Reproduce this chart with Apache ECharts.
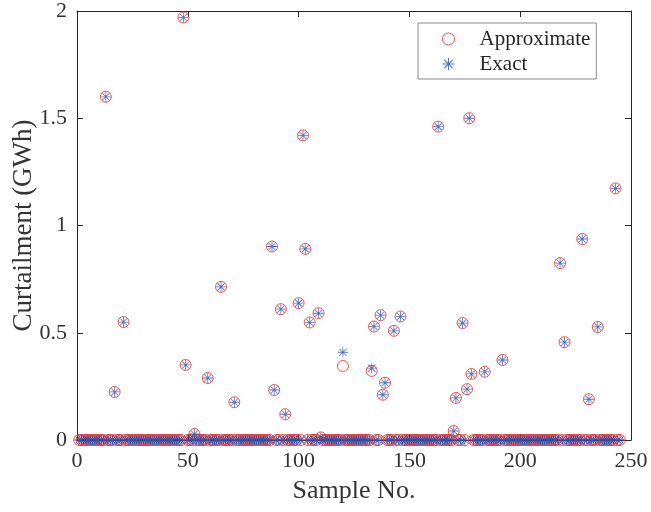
<!DOCTYPE html>
<html>
<head>
<meta charset="utf-8">
<script src="https://cdn.jsdelivr.net/npm/echarts@6/dist/echarts.min.js"></script>
<style>html,body{margin:0;padding:0;background:#fff}#c{width:651px;height:512px}</style>
</head>
<body>
<div id="c"></div>
<script>
// Curtailment per sample (GWh), samples 1..245
const approximate = [
  0,0,0,0,0,0,0,0,0,0,
  0,0,1.60,0,0,0,0.224,0,0,0,
  0.55,0,0,0,0,0,0,0,0,0,
  0,0,0,0,0,0,0,0,0,0,
  0,0,0,0,0,0,0,1.97,0.35,0,
  0,0,0.028,0,0,0,0,0,0.289,0,
  0,0,0,0,0.714,0,0,0,0,0,
  0.176,0,0,0,0,0,0,0,0,0,
  0,0,0,0,0,0,0,0.902,0.233,0,
  0,0.61,0,0.12,0,0,0,0,0,0.638,
  0,1.42,0.891,0,0.548,0,0,0,0.591,0.012,
  0,0,0,0,0,0,0,0,0,0.345,
  0,0,0,0,0,0,0,0,0,0,
  0,0,0.322,0.529,0,0,0.582,0.211,0.267,0,
  0,0,0.509,0,0,0.576,0,0,0,0,
  0,0,0,0,0,0,0,0,0,0,
  0,0,1.461,0,0,0,0,0,0,0.042,
  0.196,0,0,0.545,0,0.237,1.50,0.308,0,0,
  0,0,0,0.318,0,0,0,0,0,0,
  0,0.373,0,0,0,0,0,0,0,0,
  0,0,0,0,0,0,0,0,0,0,
  0,0,0,0,0,0,0,0.825,0,0.456,
  0,0,0,0,0,0,0,0.937,0,0,
  0.19,0,0,0,0.527,0,0,0,0,0,
  0,0,1.173,0,0
];
const exact = [
  0,0,0,0,0,0,0,0,0,0,
  0,0,1.60,0,0,0,0.224,0,0,0,
  0.55,0,0,0,0,0,0,0,0,0,
  0,0,0,0,0,0,0,0,0,0,
  0,0,0,0,0,0,0,1.97,0.35,0,
  0,0,0.028,0,0,0,0,0,0.289,0,
  0,0,0,0,0.714,0,0,0,0,0,
  0.176,0,0,0,0,0,0,0,0,0,
  0,0,0,0,0,0,0,0.902,0.233,0,
  0,0.61,0,0.12,0,0,0,0,0,0.638,
  0,1.42,0.891,0,0.548,0,0,0,0.591,0.012,
  0,0,0,0,0,0,0,0,0,0.409,
  0,0,0,0,0,0,0,0,0,0,
  0,0,0.335,0.529,0,0,0.582,0.211,0.267,0,
  0,0,0.509,0,0,0.576,0,0,0,0,
  0,0,0,0,0,0,0,0,0,0,
  0,0,1.461,0,0,0,0,0,0,0.042,
  0.196,0,0,0.545,0,0.237,1.50,0.308,0,0,
  0,0,0,0.318,0,0,0,0,0,0,
  0,0.373,0,0,0,0,0,0,0,0,
  0,0,0,0,0,0,0,0,0,0,
  0,0,0,0,0,0,0,0.825,0,0.456,
  0,0,0,0,0,0,0,0.937,0,0,
  0.19,0,0,0,0.527,0,0,0,0,0,
  0,0,1.173,0,0
];
const seriesNames = ['Approximate', 'Exact'];
const xTitle = 'Sample No.';
const yTitle = 'Curtailment (GWh)';

const RED = '#f02828';
const BLUE = '#2a4ea6';
const AX = '#262626';
const star = 'path://M46 0L54 0L54 100L46 100Z M0 46L100 46L100 54L0 54Z M17.8 12.2L87.8 82.2L82.2 87.8L12.2 17.8Z M82.2 12.2L87.8 17.8L17.8 87.8L12.2 82.2Z';
const font = 'Liberation Serif';

const toPairs = arr => arr.map((v, i) => [i + 1, v]);

const axisCommon = {
  type: 'value', min: 0,
  axisLine: {show: true, onZero: false, lineStyle: {color: AX, width: 1}},
  axisTick: {show: true, inside: true, length: 6, lineStyle: {color: AX}},
  splitLine: {show: false}
};

const chart = echarts.init(document.getElementById('c'), null, {renderer: 'canvas'});
chart.setOption({
  animation: false,
  backgroundColor: '#fff',
  grid: {left: 77, right: 20, top: 11, bottom: 72, containLabel: false, outerBoundsMode: 'none'},
  legend: {
    orient: 'vertical', left: 418, top: 23,
    padding: [4, 6, 3, 24],
    itemGap: 1, itemWidth: 12, itemHeight: 12,
    borderColor: '#8a8a8a', borderWidth: 1,
    textStyle: {fontFamily: font, fontSize: 21, color: '#262626', lineHeight: 24, padding: [0, 0, 0, 20]},
    data: [
      {name: seriesNames[0], icon: 'circle', itemStyle: {color: 'transparent', borderColor: RED, borderWidth: 1}},
      {name: seriesNames[1], icon: star, itemStyle: {color: BLUE, borderWidth: 0}}
    ]
  },
  xAxis: [
    Object.assign({}, axisCommon, {
      position: 'bottom', max: 250, interval: 50,
      axisLabel: {fontFamily: font, fontSize: 22, color: '#333', margin: 10},
      name: xTitle, nameLocation: 'middle', nameGap: 38, nameMoveOverlap: false,
      nameTextStyle: {fontFamily: font, fontSize: 26, color: '#333'}
    }),
    Object.assign({}, axisCommon, {
      position: 'top', max: 250, interval: 50, axisLabel: {show: false}
    })
  ],
  yAxis: [
    Object.assign({}, axisCommon, {
      position: 'left', max: 2, interval: 0.5,
      axisLabel: {fontFamily: font, fontSize: 22, color: '#333', margin: 10},
      name: yTitle, nameLocation: 'middle', nameGap: 40, nameMoveOverlap: false,
      nameTextStyle: {fontFamily: font, fontSize: 27, color: '#333'}
    }),
    Object.assign({}, axisCommon, {
      position: 'right', max: 2, interval: 0.5, axisLabel: {show: false}
    })
  ],
  series: [
    {
      name: seriesNames[0], type: 'scatter', xAxisIndex: 0, yAxisIndex: 0,
      symbol: 'circle', symbolSize: 11,
      itemStyle: {color: 'transparent', borderColor: RED, borderWidth: 1},
      data: toPairs(approximate), z: 2
    },
    {
      name: seriesNames[1], type: 'scatter', xAxisIndex: 0, yAxisIndex: 0,
      symbol: star, symbolSize: 10,
      itemStyle: {color: BLUE, borderWidth: 0},
      data: toPairs(exact), z: 3
    }
  ]
});
</script>
</body>
</html>
